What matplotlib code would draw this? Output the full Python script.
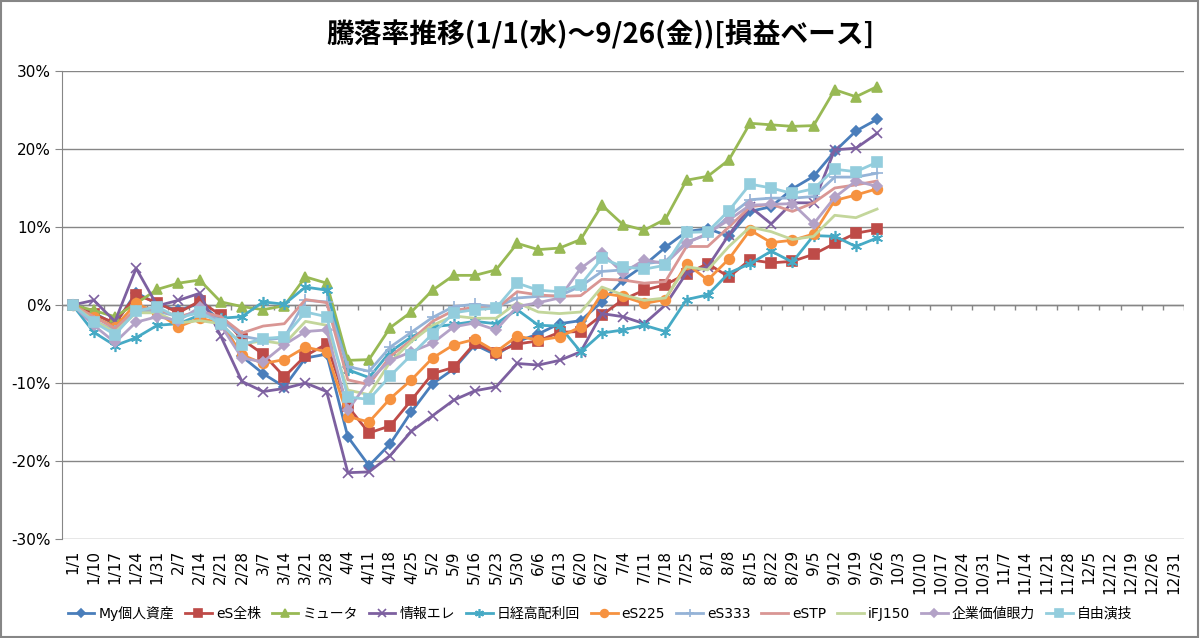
import matplotlib
matplotlib.use("Agg")
import matplotlib.pyplot as plt
from matplotlib.patches import Rectangle

plt.rcParams['font.family'] = ['DejaVu Sans', 'Noto Sans CJK JP']

# weekly category labels (whole year, data only up to 9/26)
dates = ['1/1', '1/10', '1/17', '1/24', '1/31', '2/7', '2/14', '2/21', '2/28',
         '3/7', '3/14', '3/21', '3/28', '4/4', '4/11', '4/18', '4/25', '5/2',
         '5/9', '5/16', '5/23', '5/30', '6/6', '6/13', '6/20', '6/27', '7/4',
         '7/11', '7/18', '7/25', '8/1', '8/8', '8/15', '8/22', '8/29', '9/5',
         '9/12', '9/19', '9/26', '10/3', '10/10', '10/17', '10/24', '10/31',
         '11/7', '11/14', '11/21', '11/28', '12/5', '12/12', '12/19', '12/26',
         '12/31']

# return in % (1/1 .. 9/26)
my_assets = [0, -1.0, -2.5, 1.6, 0.1, -0.7, 0.2, -2.0, -6.6, -8.8, -10.5, -6.8, -6.3,
             -16.9, -20.6, -17.8, -13.7, -10.1, -8.2, -5.1, -6.4, -4.7, -3.7, -2.4,
             -2.0, 0.4, 3.2, 5.1, 7.4, 9.4, 9.8, 8.8, 12.0, 12.6, 14.9, 16.5, 19.7,
             22.3, 23.8]
es_all = [0, -1.2, -2.3, 1.3, 0.3, -1.0, 0.5, -1.3, -4.4, -6.3, -9.2, -6.5, -5.0,
          -13.0, -16.4, -15.5, -12.2, -8.8, -8.0, -4.9, -6.1, -5.0, -4.6, -3.5,
          -3.4, -1.3, 0.7, 1.9, 2.6, 4.0, 5.3, 3.6, 5.8, 5.4, 5.6, 6.5, 7.9, 9.2, 9.7]
mutual = [0, -0.7, -1.5, 0.2, 2.0, 2.8, 3.2, 0.4, -0.2, -0.6, -0.1, 3.6, 2.8,
          -7.1, -7.0, -2.9, -0.9, 1.9, 3.8, 3.8, 4.5, 7.9, 7.1, 7.3, 8.4, 12.8,
          10.3, 9.6, 11.0, 16.0, 16.5, 18.6, 23.3, 23.1, 22.9, 23.0, 27.6, 26.7, 28.0]
info_elec = [0, 0.6, -2.1, 4.7, -0.1, 0.6, 1.5, -4.0, -9.8, -11.1, -10.7, -10.0, -11.1,
             -21.5, -21.4, -19.3, -16.2, -14.2, -12.2, -11.0, -10.5, -7.5, -7.7, -7.1,
             -6.0, -1.1, -1.5, -2.4, 0.0, 4.1, 4.9, 9.0, 12.6, 10.4, 13.1, 13.1, 19.9,
             20.1, 22.0]
nikkei_div = [0, -3.5, -5.2, -4.2, -2.6, -2.4, -1.3, -1.7, -1.5, 0.4, 0.1, 2.3, 1.9,
              -8.3, -9.3, -6.0, -4.1, -2.8, -2.5, -2.1, -2.4, -0.6, -2.6, -2.7, -6.0,
              -3.6, -3.2, -2.6, -3.4, 0.7, 1.3, 4.1, 5.3, 6.9, 5.5, 8.9, 8.8, 7.5, 8.6]
es225 = [0, -1.5, -2.8, 0.2, -1.0, -2.8, -1.7, -2.3, -6.4, -7.5, -7.0, -5.4, -6.0,
         -14.3, -15.0, -12.0, -9.6, -6.8, -5.1, -4.4, -6.0, -4.0, -4.5, -4.1, -2.8,
         1.5, 1.1, 0.2, 0.7, 5.3, 3.2, 5.9, 9.6, 8.0, 8.3, 9.1, 13.4, 14.1, 14.9]
es333 = [0, -2.0, -3.3, -0.8, -0.8, -1.5, -1.0, -1.9, -4.0, -4.5, -4.2, 0.6, 0.4,
         -7.9, -8.5, -5.4, -3.5, -1.6, -0.2, 0.1, -0.3, 0.9, 1.1, 1.2, 2.4, 4.3, 4.5,
         5.3, 5.6, 8.1, 9.0, 11.4, 13.5, 13.7, 13.7, 13.9, 16.4, 16.4, 16.9]
estp = [0, -1.5, -3.0, -0.5, -0.5, -1.5, -0.8, -1.5, -3.6, -2.7, -2.4, 0.7, 0.3,
        -9.6, -10.2, -6.6, -4.5, -2.1, -0.7, -0.3, -0.5, 1.7, 1.3, 1.1, 1.2, 3.3, 3.2,
        2.8, 3.0, 7.5, 7.5, 10.0, 12.6, 12.9, 12.0, 13.1, 15.0, 15.4, 15.9]
ifj150 = [0, -2.0, -3.5, -1.0, -1.0, -2.3, -2.0, -2.4, -5.0, -4.6, -5.0, -2.1, -2.6,
          -10.9, -11.5, -7.3, -4.7, -2.6, -1.4, -1.7, -1.7, 0.3, -0.9, -1.1, -0.9,
          2.3, 1.3, 0.6, 0.9, 4.9, 4.5, 7.5, 10.0, 9.4, 8.4, 8.8, 11.5, 11.2, 12.3]
value_eye = [0, -2.6, -4.8, -2.2, -1.5, -2.0, -0.3, -2.6, -6.8, -7.3, -5.1, -3.4, -3.2,
             -13.5, -9.7, -7.1, -6.0, -4.9, -2.8, -2.3, -3.2, -0.2, 0.3, 0.9, 4.7, 6.7,
             4.1, 5.8, 5.3, 7.9, 9.2, 10.9, 12.8, 12.9, 13.0, 10.4, 13.8, 15.9, 15.2]
free_act = [0, -2.2, -3.8, -0.8, -0.2, -1.7, -0.9, -2.4, -5.1, -4.3, -4.1, -0.9, -1.5,
            -11.8, -12.1, -9.1, -6.4, -3.7, -1.0, -0.6, -0.4, 2.8, 1.9, 1.7, 2.6, 6.0,
            4.9, 4.6, 5.1, 9.3, 9.4, 12.1, 15.5, 15.0, 14.3, 14.9, 17.4, 17.1, 18.3]

series = [
    ('My個人資産', my_assets, '#4A7EBB', 'D', 5.5),
    ('eS全株', es_all, '#BE4B48', 's', 6.5),
    ('ミュータ', mutual, '#98B954', '^', 7),
    ('情報エレ', info_elec, '#7D60A0', 'x', 7),
    ('日経高配利回', nikkei_div, '#46AAC5', (6, 2, 0), 8),
    ('eS225', es225, '#F69240', 'o', 7),
    ('eS333', es333, '#95B3D7', '+', 8),
    ('eSTP', estp, '#D99694', None, 0),
    ('iFJ150', ifj150, '#C3D69B', None, 0),
    ('企業価値眼力', value_eye, '#B3A2C7', 'D', 5.5),
    ('自由演技', free_act, '#93CDDD', 's', 7.5),
]

fig = plt.figure(figsize=(12, 6.38), dpi=100)
ax = fig.add_axes([0.0517, 0.1552, 0.935, 0.7335])

x = list(range(len(my_assets)))
for name, vals, color, marker, ms in series:
    ax.plot(x, vals, color=color, lw=2.0, marker=marker, markersize=ms,
            markerfacecolor=color, markeredgecolor=color, markeredgewidth=1.2,
            label=name)

ax.set_xlim(-0.5, len(dates) - 0.5)
ax.set_ylim(-30, 30)
ax.set_yticks([-30, -20, -10, 0, 10, 20, 30])
ax.set_yticklabels([f'{v}%' for v in [-30, -20, -10, 0, 10, 20, 30]], fontsize=11)
ax.yaxis.grid(True, color='#868686', lw=1)
ax.set_axisbelow(True)
ax.tick_params(axis='y', length=5, color='#868686', pad=3)

ax.set_xticks(range(len(dates)))
ax.set_xticklabels(dates, rotation=90, fontsize=11)
ax.tick_params(axis='x', length=0, pad=8)

# category axis crosses at 0: axis line + tick marks between categories
ax.axhline(0, color='#868686', lw=1, zorder=1)
ax.vlines([i - 0.5 for i in range(len(dates) + 1)], -0.65, 0,
          color='#868686', lw=1, zorder=1)

for side in ['top', 'right', 'bottom']:
    ax.spines[side].set_visible(False)
ax.spines['left'].set_color('#868686')

fig.text(0.5, 0.945, '騰落率推移(1/1(水)～9/26(金))[損益ベース]',
         ha='center', va='center', fontsize=20, fontweight='bold',
         family=['Noto Sans CJK JP', 'DejaVu Sans'])

leg = fig.legend(loc='center', bbox_to_anchor=(0.5, 0.039), ncol=11, frameon=False,
                 prop={'family': ['DejaVu Sans', 'Noto Sans CJK JP'], 'size': 10},
                 handlelength=1.9, handletextpad=0.3, columnspacing=0.8,
                 markerscale=0.8)

fig.patches.append(Rectangle((0.001, 0.001), 0.997, 0.997, transform=fig.transFigure,
                             fill=False, edgecolor='#868686', lw=1.5))

fig.savefig('out.png', dpi=100)
